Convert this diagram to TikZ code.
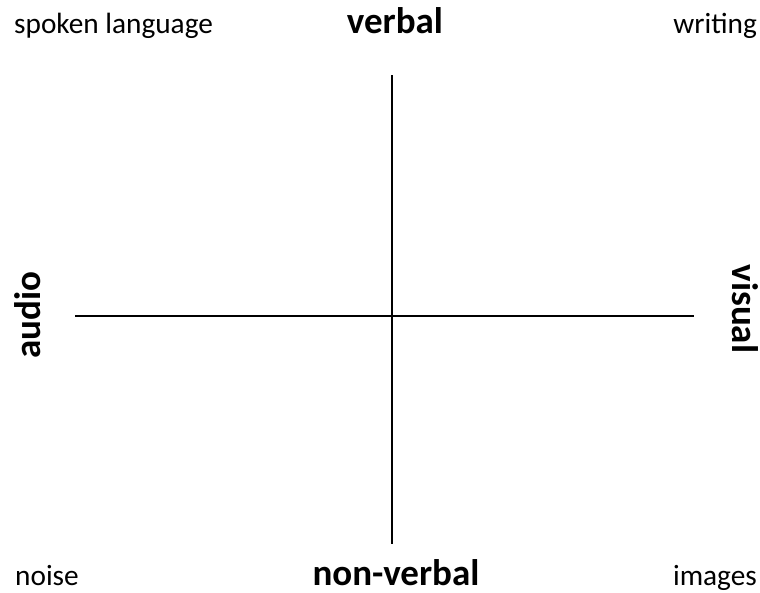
\documentclass[tikz,border=0pt]{standalone}
\usepackage{fontspec}
\setmainfont{Carlito}
\begin{document}
\begin{tikzpicture}[x=1pt,y=-1pt,
  small/.style={font=\fontsize{29.3}{34}\selectfont, inner sep=0pt},
  big/.style={font=\fontsize{37}{42}\selectfont\bfseries, inner sep=0pt},
  axis/.style={line width=1.6pt}]
\useasboundingbox (0,0) rectangle (760,592);
\coordinate (top) at (392,75);
\coordinate (bot) at (392,544);
\coordinate (left) at (75,316);
\coordinate (right) at (694,316);
\draw[axis] (top) -- (bot);
\draw[axis] (left) -- (right);
\node[small, anchor=base west] (spoken) at (14,33) {spoken language};
\node[big, anchor=base] (verbal) at (395,33) {verbal};
\node[small, anchor=base east] (writing) at (757,33) {writing};
\node[big, rotate=90, anchor=base] (audio) at (40,315) {audio};
\node[big, rotate=-90, anchor=base] (visual) at (732,309) {visual};
\node[small, anchor=base west] (noise) at (15,585) {noise};
\node[big, anchor=base] (nonverbal) at (396,585) {non-verbal};
\node[small, anchor=base east] (images) at (757,585) {images};
\end{tikzpicture}
\end{document}
